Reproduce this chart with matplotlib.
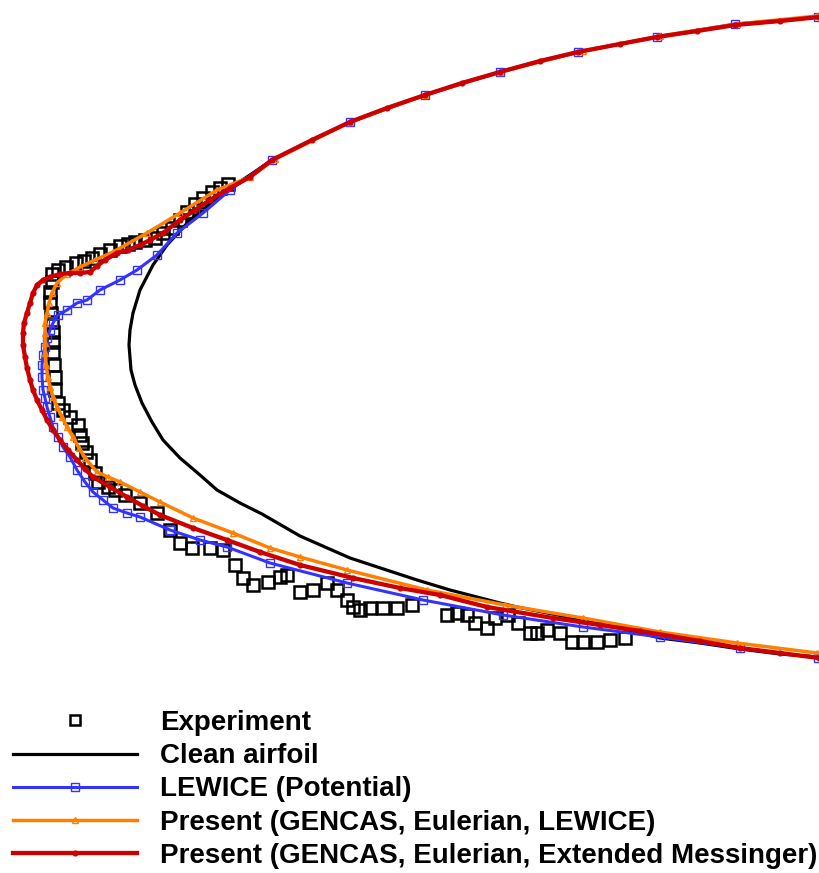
#Imports
import numpy as np
import matplotlib
matplotlib.use('Agg')
import matplotlib.pyplot as plt

plt.rcParams['font.family'] = ['Liberation Sans', 'DejaVu Sans']

#Data (x to the right, y downwards)
exp_x = [228, 220, 212, 203, 195, 187, 180, 172, 163, 155, 145, 135, 128, 120, 110, 100, 92, 84, 76, 66, 58, 52,
         52, 50, 50, 51, 52, 53, 53, 53, 54, 55, 55, 58, 63, 70, 78, 80, 82, 86, 90, 95, 98, 108, 115, 125, 140,
         157, 170, 180, 192, 210, 223, 235, 243, 253, 268, 280, 287, 300, 313, 327, 337, 347, 353, 360, 370, 383,
         397, 412, 447, 457, 467, 475, 487, 495, 508, 518, 530, 537, 547, 560, 572, 583, 597, 610, 625]
exp_y = [184, 188, 192, 198, 204, 212, 220, 228, 233, 238, 240, 242, 244, 246, 250, 254, 258, 261, 263, 267, 270, 274,
         282, 292, 302, 313, 322, 332, 342, 352, 365, 377, 390, 403, 410, 417, 425, 435, 443, 452, 460, 473, 482,
         487, 490, 495, 503, 513, 530, 543, 548, 548, 550, 565, 578, 585, 582, 577, 575, 592, 590, 583, 590, 600,
         607, 610, 608, 608, 608, 605, 615, 613, 615, 623, 628, 618, 615, 623, 633, 633, 630, 633, 642, 642, 642,
         640, 638]

clean_x = [819, 780, 735, 697, 657, 620, 578, 540, 500, 462, 425, 387, 350, 312, 272, 250, 230, 215, 190, 167, 153,
           140, 133, 130, 129, 131, 135, 142, 152, 163, 180, 200, 217, 240, 262, 300, 350, 417, 450, 500, 517, 583,
           620, 660, 700, 740, 780, 819]
clean_y = [17, 21, 25, 31, 37, 44, 52, 61, 72, 83, 95, 108, 122, 140, 160, 175, 188, 200, 220, 245, 265,
           290, 313, 330, 345, 370, 385, 403, 422, 440, 458, 475, 490, 503, 514, 536, 558, 580, 590, 603, 607, 620,
           628, 638, 643, 649, 654, 657]

lewice_x = [818, 735, 657, 578, 500, 425, 350, 272, 230, 203, 177, 157, 137, 120, 100, 87, 77, 67, 58, 53, 50, 47,
            45, 43, 42, 42, 43, 45, 47, 50, 53, 58, 63, 70, 77, 85, 93, 103, 113, 127, 140, 170, 200, 227, 270, 347,
            423, 503, 583, 660, 740, 818]
lewice_y = [17, 24, 37, 52, 72, 95, 122, 160, 190, 213, 233, 255, 270, 280, 290, 300, 303, 310, 315, 323, 330, 338,
            347, 355, 365, 377, 390, 398, 407, 417, 427, 437, 447, 457, 470, 482, 492, 500, 508, 513, 517, 530, 540,
            547, 563, 583, 600, 615, 627, 637, 648, 658]

gencas_x = [817, 737, 660, 583, 500, 425, 350, 275, 250, 217, 180, 147, 113, 95, 80, 67, 57, 52, 49, 47, 45, 45, 45,
            45, 46, 48, 50, 53, 57, 62, 67, 73, 79, 85, 97, 108, 120, 140, 160, 193, 233, 270, 300, 347, 427, 505,
            583, 660, 737, 817]
gencas_y = [16, 24, 36, 51, 72, 95, 122, 159, 177, 190, 213, 233, 252, 260, 267, 274, 283, 293, 303, 313, 323, 333,
            343, 353, 365, 377, 387, 397, 407, 417, 427, 437, 448, 458, 472, 477, 482, 492, 502, 518, 533, 548, 557,
            570, 590, 605, 618, 632, 643, 653]

messinger_x = [819, 780, 735, 697, 657, 620, 578, 540, 500, 462, 425, 387, 350, 312, 272, 250, 230, 210, 195, 180,
               163, 150, 140, 128, 117, 105, 97, 90, 80, 70, 60, 50, 43, 37, 33, 30, 27, 24, 23, 23, 25, 27, 30, 33,
               37, 42, 47, 53, 60, 68, 77, 85, 93, 110, 127, 143, 160, 193, 227, 260, 300, 353, 400, 440, 487, 553,
               600, 640, 700, 740, 780, 819]
messinger_y = [17, 21, 25, 31, 37, 44, 52, 61, 72, 83, 95, 108, 122, 140, 160, 177, 188, 200, 210, 220,
               233, 240, 245, 250, 253, 260, 266, 272, 273, 273, 274, 277, 280, 285, 293, 303, 313, 323, 333, 345,
               357, 368, 380, 390, 400, 410, 420, 430, 440, 450, 460, 469, 477, 487, 497, 506, 515, 528, 540, 552,
               565, 578, 588, 595, 607, 618, 625, 631, 641, 648, 653, 658]

labels = ['Experiment', 'Clean airfoil', 'LEWICE (Potential)',
          'Present (GENCAS, Eulerian, LEWICE)',
          'Present (GENCAS, Eulerian, Extended Messinger)']

#Figure
fig = plt.figure(figsize=(8.19, 8.73), dpi=100)
ax = fig.add_axes([0, 0, 1, 1])

ax.plot(exp_x, exp_y, linestyle='none', marker='s', markersize=8, markerfacecolor='none',
        markeredgecolor='black', markeredgewidth=1.8, label=labels[0])
ax.plot(clean_x, clean_y, color='black', linewidth=2.3, label=labels[1])
ax.plot(lewice_x, lewice_y, color='#3333ff', linewidth=2.2, marker='s', markersize=5.5,
        markerfacecolor='none', markeredgewidth=1.0, label=labels[2])
ax.plot(gencas_x, gencas_y, color='#ff8000', linewidth=2.5, marker='^', markersize=5,
        markerfacecolor='none', markeredgewidth=1.0, label=labels[3])
ax.plot(messinger_x, messinger_y, color='#cc0000', linewidth=3.1, marker='o', markersize=3.4,
        label=labels[4])

ax.set_xlim(0, 819)
ax.set_ylim(873, 0)
ax.axis('off')

#Legend
leg = ax.legend(loc='upper left', bbox_to_anchor=(13 / 819, 1 - 710 / 873), bbox_transform=fig.transFigure,
                frameon=False, borderpad=0, borderaxespad=0, numpoints=1, handlelength=4.46,
                handletextpad=0.83, labelspacing=0.26, prop={'size': 20, 'weight': 'bold'})
leg.legend_handles[0].set_markersize(6.5)

fig.savefig('out.png', dpi=100)
